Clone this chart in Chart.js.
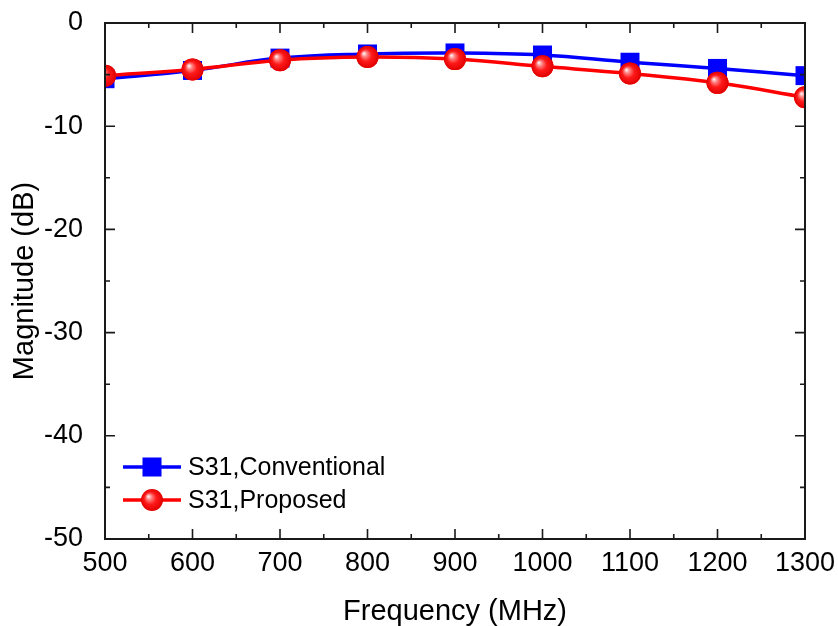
<!DOCTYPE html>
<html>
<head>
<meta charset="utf-8">
<script src="https://cdn.jsdelivr.net/npm/chart.js@4.4.1/dist/chart.umd.min.js"></script>
<style>
  html, body { margin: 0; padding: 0; background: #fff; }
  #wrap { width: 838px; height: 626px; }
</style>
</head>
<body>
<div id="wrap"><canvas id="chart" width="838" height="626"></canvas></div>
<script>
// data
const freqs = [500, 600, 700, 800, 900, 1000, 1100, 1200, 1300];
const conventional = [-5.4, -4.6, -3.4, -3.0, -2.9, -3.1, -3.8, -4.4, -5.1];
const proposed = [-5.1, -4.5, -3.6, -3.3, -3.5, -4.2, -4.9, -5.8, -7.2];
const seriesLabels = ["S31,Conventional", "S31,Proposed"];

const xMin = 500, xMax = 1300, xStep = 100;
const yMin = -50, yMax = 0, yStep = 10;

const FONT = "'Liberation Sans', Arial, sans-serif";

function toPoints(ys) {
  return freqs.map((f, i) => ({ x: f, y: ys[i] }));
}

// shiny red ball
function drawBall(ctx, x, y, r) {
  const g = ctx.createRadialGradient(x - r * 0.35, y - r * 0.35, 0, x, y, r);
  g.addColorStop(0, "#ffffff");
  g.addColorStop(0.25, "#ff8080");
  g.addColorStop(0.55, "#ff1a1a");
  g.addColorStop(1, "#e00000");
  ctx.beginPath();
  ctx.arc(x, y, r, 0, Math.PI * 2);
  ctx.fillStyle = g;
  ctx.fill();
}

// gloss on the red markers, clipped to the plot
const ballPlugin = {
  id: "balls",
  afterDatasetsDraw(chart) {
    const ctx = chart.ctx;
    const a = chart.chartArea;
    const meta = chart.getDatasetMeta(1);
    ctx.save();
    ctx.beginPath();
    ctx.rect(a.left, a.top, a.right - a.left, a.bottom - a.top);
    ctx.clip();
    meta.data.forEach(p => drawBall(ctx, p.x, p.y, 11));
    ctx.restore();
  }
};

// box frame + inward ticks on all sides
const framePlugin = {
  id: "frame",
  afterDraw(chart) {
    const ctx = chart.ctx;
    const a = chart.chartArea;
    const xs = chart.scales.x, ys = chart.scales.y;
    ctx.save();
    ctx.strokeStyle = "#1a1a1a";
    ctx.lineWidth = 2;
    ctx.strokeRect(a.left, a.top, a.right - a.left, a.bottom - a.top);
    ctx.lineWidth = 1.6;
    ctx.beginPath();
    for (let v = xMin; v <= xMax; v += xStep / 2) {
      const px = xs.getPixelForValue(v);
      const len = (v % xStep === 0) ? 10 : 5;
      ctx.moveTo(px, a.bottom); ctx.lineTo(px, a.bottom - len);
      ctx.moveTo(px, a.top); ctx.lineTo(px, a.top + len);
    }
    for (let v = yMin; v <= yMax; v += yStep / 2) {
      const py = ys.getPixelForValue(v);
      const len = (v % yStep === 0) ? 10 : 5;
      ctx.moveTo(a.left, py); ctx.lineTo(a.left + len, py);
      ctx.moveTo(a.right, py); ctx.lineTo(a.right - len, py);
    }
    ctx.stroke();
    ctx.restore();
  }
};

// legend in the lower left of the plot
const legendPlugin = {
  id: "insideLegend",
  afterDraw(chart) {
    const ctx = chart.ctx;
    const x0 = 123, x1 = 181, xm = 152;
    const rows = [467, 500];
    ctx.save();
    ctx.font = "25px " + FONT;
    ctx.textBaseline = "middle";
    chart.data.datasets.forEach((ds, i) => {
      const y = rows[i];
      ctx.strokeStyle = ds.borderColor;
      ctx.lineWidth = 3.5;
      ctx.beginPath();
      ctx.moveTo(x0, y); ctx.lineTo(x1, y);
      ctx.stroke();
      if (i === 0) {
        ctx.fillStyle = ds.borderColor;
        ctx.fillRect(xm - 9.5, y - 9.5, 19, 19);
      } else {
        drawBall(ctx, xm, y, 11);
      }
      ctx.fillStyle = "#000";
      ctx.fillText(ds.label, 188, y + 1);
    });
    ctx.restore();
  }
};

new Chart(document.getElementById("chart"), {
  type: "line",
  data: {
    datasets: [
      {
        label: seriesLabels[0],
        data: toPoints(conventional),
        borderColor: "#0000ff",
        backgroundColor: "#0000ff",
        borderWidth: 3.5,
        tension: 0.4,
        pointStyle: "rect",
        pointRadius: 13.4,
        pointBorderWidth: 0,
        clip: 0,
        order: 1
      },
      {
        label: seriesLabels[1],
        data: toPoints(proposed),
        borderColor: "#ff0000",
        backgroundColor: "#ff0000",
        borderWidth: 3.5,
        tension: 0.4,
        pointStyle: "circle",
        pointRadius: 11,
        pointBorderWidth: 0,
        clip: 0,
        order: 0
      }
    ]
  },
  options: {
    responsive: false,
    animation: false,
    events: [],
    layout: { padding: { left: 0, top: 23, right: 33, bottom: 0 } },
    plugins: {
      legend: { display: false },
      tooltip: { enabled: false }
    },
    scales: {
      x: {
        type: "linear",
        min: xMin, max: xMax,
        grid: { display: false },
        border: { display: false },
        ticks: {
          stepSize: xStep,
          color: "#000",
          padding: 0,
          maxRotation: 0,
          callback: v => String(v),
          font: { family: FONT, size: 27 }
        },
        title: {
          display: true,
          text: "Frequency (MHz)",
          color: "#000",
          padding: { top: 0, bottom: 0 },
          font: { family: FONT, size: 29, lineHeight: 1 }
        },
        afterFit(scale) {
          scale.height = 87;
          scale.paddingLeft = 0;
          scale.paddingRight = 0;
        }
      },
      y: {
        type: "linear",
        min: yMin, max: yMax,
        grid: { display: false },
        border: { display: false },
        ticks: {
          stepSize: yStep,
          color: "#000",
          padding: 14,
          callback: v => String(v),
          font: { family: FONT, size: 27 }
        },
        title: {
          display: true,
          text: "Magnitude (dB)",
          color: "#000",
          padding: { top: 8, bottom: 0 },
          font: { family: FONT, size: 29 }
        },
        afterFit(scale) {
          scale.width = 105;
          scale.paddingTop = 0;
          scale.paddingBottom = 0;
        }
      }
    }
  },
  plugins: [ballPlugin, framePlugin, legendPlugin]
});
</script>
</body>
</html>
